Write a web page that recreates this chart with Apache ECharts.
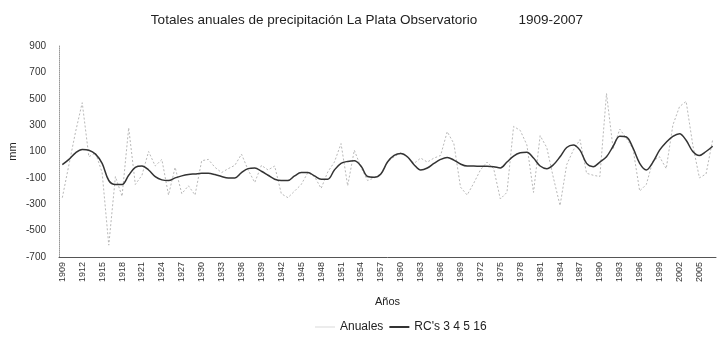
<!DOCTYPE html>
<html>
<head>
<meta charset="utf-8">
<script src="https://cdn.jsdelivr.net/npm/echarts@6/dist/echarts.min.js"></script>
<style>
  html, body { margin: 0; padding: 0; background: #fff; }
  #chart { width: 718px; height: 348px; }
</style>
</head>
<body>
<div id="chart"></div>
<script>
// Years 1909–2007
const years = [];
for (let y = 1909; y <= 2007; y++) years.push(String(y));

// Annual precipitation anomalies (mm)
const anuales = [
  -250, 0, 250, 470, 60, 90, -60, -610, -90, -240,
  280, -150, -80, 100, -10, 40, -230, -20, -220, -160,
  -230, 30, 40, -20, -60, -30, -5, 80, -40, -135,
  -5, -40, -10, -220, -250, -200, -150, -60, -90, -180,
  -55, 20, 160, -160, 110, -20, -120, -100, -70, 20,
  60, 90, 55, 10, 50, 20, 50, 70, 250, 160,
  -170, -230, -140, -40, 20, -30, -260, -210, 290, 260,
  150, -210, 220, 130, -100, -310, 0, 110, 190, -65,
  -80, -90, 540, 120, 270, 200, 120, -200, -150, 30,
  60, -30, 300, 440, 480, 150, -100, -70, 190
];

// Reconstructed components RC's 3 4 5 16 (mm)
const rcs = [
  0, 40, 90, 115, 110, 80, 10, -120, -150, -150,
  -80, -20, -10, -40, -90, -115, -120, -100, -85, -75,
  -70, -65, -65, -75, -90, -100, -100, -60, -30, -25,
  -50, -80, -110, -120, -120, -85, -60, -60, -85, -110,
  -110, -40, 10, 25, 30, -10, -90, -95, -70, 20,
  70, 85, 60, 0, -40, -25, 10, 40, 55, 35,
  5, -10, -10, -12, -12, -15, -25, 20, 65, 90,
  95, 50, -10, -30, 0, 60, 130, 150, 110, 10,
  -15, 20, 60, 140, 215, 210, 125, 10, -40, 20,
  110, 170, 215, 235, 185, 100, 70, 100, 140
];

const yTicks = { min: -700, max: 900, step: 200 };

const font = 'Liberation Sans, Arial, sans-serif';
const chart = echarts.init(document.getElementById('chart'), null, { renderer: 'canvas' });

chart.setOption({
  animation: false,
  backgroundColor: '#ffffff',
  title: {
    text: 'Totales anuales de precipitación La Plata Observatorio           1909-2007',
    left: 362,
    textAlign: 'center',
    top: 8,
    textStyle: { fontFamily: font, fontSize: 13.5, fontWeight: 'normal', color: '#222' }
  },
  legend: {
    left: 310,
    top: 316,
    itemGap: 6,
    itemWidth: 20,
    itemHeight: 2,
    icon: 'rect',
    textStyle: { fontFamily: font, fontSize: 12, color: '#222' },
    data: [
      { name: 'Anuales', itemStyle: { color: '#ececec' } },
      { name: "RC's 3 4 5 16", itemStyle: { color: '#333' } }
    ]
  },
  grid: { left: 59, right: 2, top: 46, bottom: 91, containLabel: false, outerBoundsMode: 'none' },
  xAxis: {
    type: 'category',
    data: years,
    boundaryGap: true,
    name: 'Años',
    nameLocation: 'middle',
    nameGap: 39,
    nameTextStyle: { fontFamily: font, fontSize: 11, color: '#222' },
    axisLine: { onZero: false, lineStyle: { color: '#555', width: 1 } },
    axisTick: { show: false },
    axisLabel: {
      interval: 2,
      rotate: 90,
      fontFamily: font,
      fontSize: 9,
      color: '#333',
      margin: 5
    },
    splitLine: { show: false }
  },
  yAxis: {
    type: 'value',
    min: yTicks.min,
    max: yTicks.max,
    interval: yTicks.step,
    name: 'mm',
    nameLocation: 'middle',
    nameGap: 41,
    nameRotate: 90,
    nameMoveOverlap: false,
    nameTextStyle: { fontFamily: font, fontSize: 11, color: '#222' },
    axisLine: { show: true, onZero: false, lineStyle: { color: '#999', width: 1, type: 'dotted' } },
    axisTick: { show: false },
    axisLabel: { fontFamily: font, fontSize: 10, color: '#333', margin: 13 },
    splitLine: { show: false }
  },
  series: [
    {
      name: 'Anuales',
      type: 'line',
      data: anuales,
      showSymbol: false,
      symbol: 'none',
      lineStyle: { color: '#b8b8b8', width: 1, type: [2, 2] },
      itemStyle: { color: '#ececec' },
      z: 1
    },
    {
      name: "RC's 3 4 5 16",
      type: 'line',
      data: rcs,
      smooth: 0.35,
      showSymbol: false,
      symbol: 'none',
      lineStyle: { color: '#333', width: 1.5 },
      itemStyle: { color: '#333' },
      z: 2
    }
  ]
});
</script>
</body>
</html>
